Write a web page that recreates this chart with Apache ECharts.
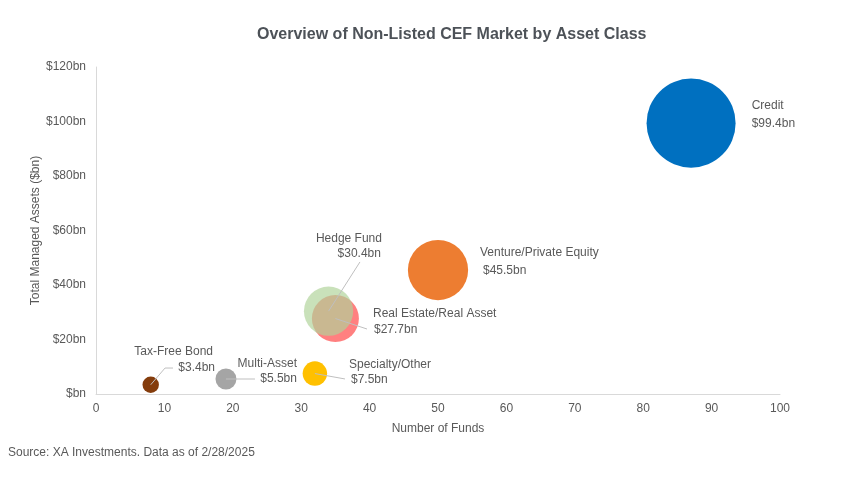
<!DOCTYPE html>
<html>
<head>
<meta charset="utf-8">
<script src="https://cdn.jsdelivr.net/npm/echarts@6/dist/echarts.min.js"></script>
<style>
  html, body { margin: 0; padding: 0; background: #fff; }
  #main { width: 854px; height: 485px; }
</style>
</head>
<body>
<div id="main"></div>
<script>
// data
var categories = ['Credit', 'Venture/Private Equity', 'Real Estate/Real Asset', 'Hedge Fund',
  'Specialty/Other', 'Multi-Asset', 'Tax-Free Bond'];
var fundCounts = [87, 50, 35, 34, 32, 19, 8];
var assets = [99.4, 45.5, 27.7, 30.4, 7.5, 5.5, 3.4];
var yTicks = [0, 20, 40, 60, 80, 100, 120];

// styles
var colors = ['#0070C0', '#ED7D31', '#FF8080', 'rgba(175,211,153,0.68)', '#FFC000', '#A5A5A5', '#843C0C'];
var textColor = '#595959';
var fontFamily = 'Liberation Sans, Arial';
var sizePerRootBn = 8.93; // bubble diameter in px per sqrt($bn)

// label placement, px offsets from the bubble centre
var labelSpots = [
  { name: [60.6, -17.1], nameAlign: 'left', value: [60.6, 0.9], valueAlign: 'left', line: null },
  { name: [42, -17], nameAlign: 'left', value: [45, 1], valueAlign: 'left', line: null },
  { name: [37.6, -4.5], nameAlign: 'left', value: [38.6, 11.5], valueAlign: 'left', line: [[0, 0], [31.6, 10.5]] },
  { name: [53.4, -72.2], nameAlign: 'right', value: [52.4, -57.2], valueAlign: 'right', line: [[0, 0], [31.4, -49.2]] },
  { name: [34.1, -8.6], nameAlign: 'left', value: [36.1, 6.4], valueAlign: 'left', line: [[0, 0], [30.1, 5.4]] },
  { name: [71, -15], nameAlign: 'right', value: [71, 0], valueAlign: 'right', line: [[0, 0], [29, 0]] },
  { name: [62.3, -32.7], nameAlign: 'right', value: [64.3, -16.7], valueAlign: 'right', line: [[0, 0], [14.3, -16.7], [22.3, -16.7]] }
];

var bubbleData = categories.map(function(c, i) {
  return { name: c, value: [fundCounts[i], assets[i]], itemStyle: { color: colors[i], opacity: 1 } };
});

var labelData = categories.map(function(c, i) {
  return { name: c, value: [fundCounts[i], assets[i]] };
});

function labelText(x, y, text, align) {
  return {
    type: 'text',
    x: x,
    y: y,
    style: {
      text: text,
      fill: textColor,
      fontSize: 12,
      fontFamily: fontFamily,
      align: align,
      verticalAlign: 'middle'
    }
  };
}

function renderLabel(params, api) {
  var i = params.dataIndex;
  var s = labelSpots[i];
  var c = api.coord([api.value(0), api.value(1)]);
  var children = [];
  if (s.line) {
    children.push({
      type: 'polyline',
      shape: { points: s.line.map(function(p) { return [c[0] + p[0], c[1] + p[1]]; }) },
      style: { stroke: '#bfbfbf', lineWidth: 1, fill: null }
    });
  }
  children.push(labelText(c[0] + s.name[0], c[1] + s.name[1], categories[i], s.nameAlign));
  children.push(labelText(c[0] + s.value[0], c[1] + s.value[1], '$' + assets[i] + 'bn', s.valueAlign));
  return { type: 'group', children: children };
}

var chart = echarts.init(document.getElementById('main'));
chart.setOption({
  animation: false,
  textStyle: { fontFamily: fontFamily },
  title: {
    text: 'Overview of Non-Listed CEF Market by Asset Class',
    left: 257,
    top: 27,
    padding: 0,
    textStyle: { fontSize: 16, fontWeight: 'bold', color: '#4d5258', fontFamily: fontFamily }
  },
  grid: { left: 96, right: 74, top: 67, bottom: 91 },
  xAxis: {
    type: 'value',
    min: 0,
    max: 100,
    interval: 10,
    name: 'Number of Funds',
    nameLocation: 'middle',
    nameGap: 29,
    nameMoveOverlap: false,
    nameTextStyle: { color: textColor, fontSize: 12 },
    axisLine: { show: true, lineStyle: { color: '#d9d9d9' } },
    axisTick: { show: false },
    splitLine: { show: false },
    axisLabel: { color: textColor, fontSize: 12, margin: 9 }
  },
  yAxis: {
    type: 'value',
    min: yTicks[0],
    max: yTicks[yTicks.length - 1],
    interval: 20,
    name: 'Total Managed Assets ($bn)',
    nameLocation: 'middle',
    nameGap: 54,
    nameMoveOverlap: false,
    nameTextStyle: { color: textColor, fontSize: 12 },
    axisLine: { show: true, lineStyle: { color: '#d9d9d9' } },
    axisTick: { show: false },
    splitLine: { show: false },
    axisLabel: {
      color: textColor,
      fontSize: 12,
      margin: 10,
      formatter: function(v) { return v === 0 ? '$bn' : '$' + v + 'bn'; }
    }
  },
  series: [
    {
      name: 'bubbles',
      type: 'scatter',
      data: bubbleData,
      symbolSize: function(d) { return sizePerRootBn * Math.sqrt(d[1]); },
      label: { show: false }
    },
    {
      name: 'labels',
      type: 'custom',
      z: 5,
      silent: true,
      data: labelData,
      renderItem: renderLabel
    }
  ],
  graphic: [{
    type: 'text',
    left: 8,
    top: 447,
    style: { text: 'Source: XA Investments. Data as of 2/28/2025', fill: textColor, fontSize: 12, fontFamily: fontFamily }
  }]
});
</script>
</body>
</html>
